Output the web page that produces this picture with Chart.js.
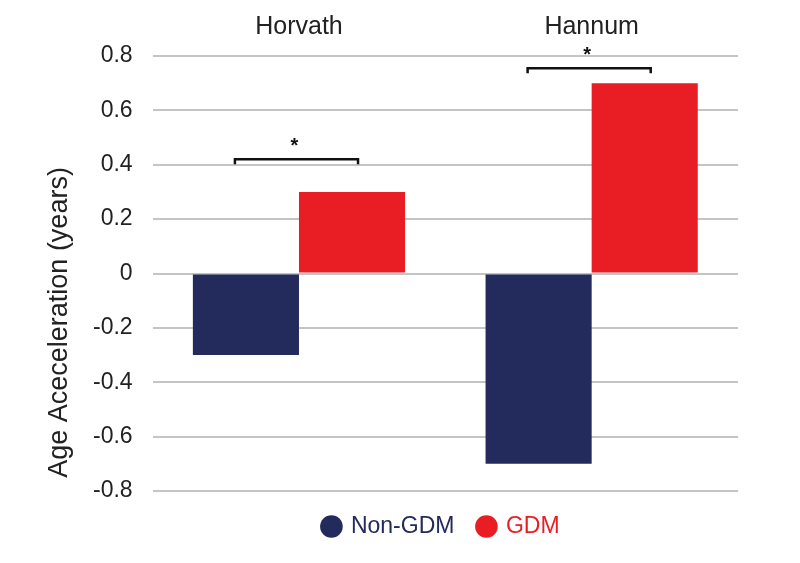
<!DOCTYPE html>
<html>
<head>
<meta charset="utf-8">
<script src="https://cdn.jsdelivr.net/npm/chart.js@4"></script>
<style>
  html, body { margin: 0; padding: 0; background: #fff; }
  #wrap { width: 800px; height: 563px; }
</style>
</head>
<body>
<div id="wrap"><canvas id="ageChart" width="800" height="563"></canvas></div>
<script>
// data
const clocks = ['Horvath', 'Hannum'];
const nonGdm = [-0.3, -0.7];
const gdm = [0.3, 0.7];
const bracketLevels = [0.42, 0.755];   // height of the significance bracket
const bracketMarks = ['*', '*'];
const yTitle = 'Age Aceceleration (years)';

const navy = '#232a5c';
const red = '#e91e25';
const fontFamily = '"Liberation Sans", Arial, sans-serif';

// brackets, asterisks and the (off-centre) y title
const sigPlugin = {
    id: 'sigBrackets',
    afterLayout(chart) {
        // legend is centred on the plot area, not the canvas
        chart.legend.left += 36;
        chart.legend.right += 36;
    },
    afterDatasetsDraw(chart) {
        const ctx = chart.ctx;
        const y = chart.scales.y;
        const m0 = chart.getDatasetMeta(0);
        const m1 = chart.getDatasetMeta(1);
        ctx.save();
        ctx.strokeStyle = '#111';
        ctx.lineWidth = 2.5;
        clocks.forEach((c, i) => {
            const x1 = m0.data[i].x - 11;
            const x2 = m1.data[i].x + 6;
            const yy = y.getPixelForValue(bracketLevels[i]);
            ctx.beginPath();
            ctx.moveTo(x1, yy + 5);
            ctx.lineTo(x1, yy);
            ctx.lineTo(x2, yy);
            ctx.lineTo(x2, yy + 5);
            ctx.stroke();
            ctx.fillStyle = '#111';
            ctx.font = 'bold 20px ' + fontFamily;
            ctx.textAlign = 'center';
            ctx.textBaseline = 'middle';
            ctx.fillText(bracketMarks[i], (x1 + x2) / 2 - 2, yy - 13);
        });

        // y axis title
        ctx.translate(60, y.getPixelForValue(-0.18));
        ctx.rotate(-Math.PI / 2);
        ctx.fillStyle = '#222';
        ctx.font = '27px ' + fontFamily;
        ctx.textAlign = 'center';
        ctx.textBaseline = 'middle';
        ctx.fillText(yTitle, 0, 0);
        ctx.restore();
    }
};

const ctx = document.getElementById('ageChart').getContext('2d');
new Chart(ctx, {
    type: 'bar',
    data: {
        labels: clocks,
        datasets: [
            { label: 'Non-GDM', data: nonGdm, backgroundColor: navy },
            { label: 'GDM', data: gdm, backgroundColor: red }
        ]
    },
    options: {
        responsive: false,
        animation: false,
        categoryPercentage: 0.725,
        barPercentage: 1,
        layout: { padding: { left: 73, right: 62, top: 6, bottom: 15 } },
        plugins: {
            legend: {
                position: 'bottom',
                labels: {
                    usePointStyle: true,
                    pointStyle: 'circle',
                    boxWidth: 16,
                    boxHeight: 16,
                    padding: 24,
                    font: { family: fontFamily, size: 23 },
                    generateLabels(chart) {
                        return chart.data.datasets.map((ds, i) => ({
                            text: ds.label,
                            fillStyle: ds.backgroundColor,
                            strokeStyle: ds.backgroundColor,
                            fontColor: ds.backgroundColor,
                            lineWidth: 0,
                            pointStyle: 'circle',
                            datasetIndex: i
                        }));
                    }
                }
            },
            tooltip: { enabled: false }
        },
        scales: {
            x: {
                position: 'top',
                grid: { display: false },
                border: { display: false },
                ticks: { color: '#222', font: { family: fontFamily, size: 25 }, padding: 6 }
            },
            y: {
                min: -0.8,
                max: 0.8,
                ticks: {
                    stepSize: 0.2,
                    color: '#222',
                    padding: 20,
                    font: { family: fontFamily, size: 23 },
                    callback: v => String(Math.round(v * 10) / 10)
                },
                grid: { color: '#c4c4c4', lineWidth: 2, drawTicks: false },
                border: { display: false }
            }
        }
    },
    plugins: [sigPlugin]
});
</script>
</body>
</html>
